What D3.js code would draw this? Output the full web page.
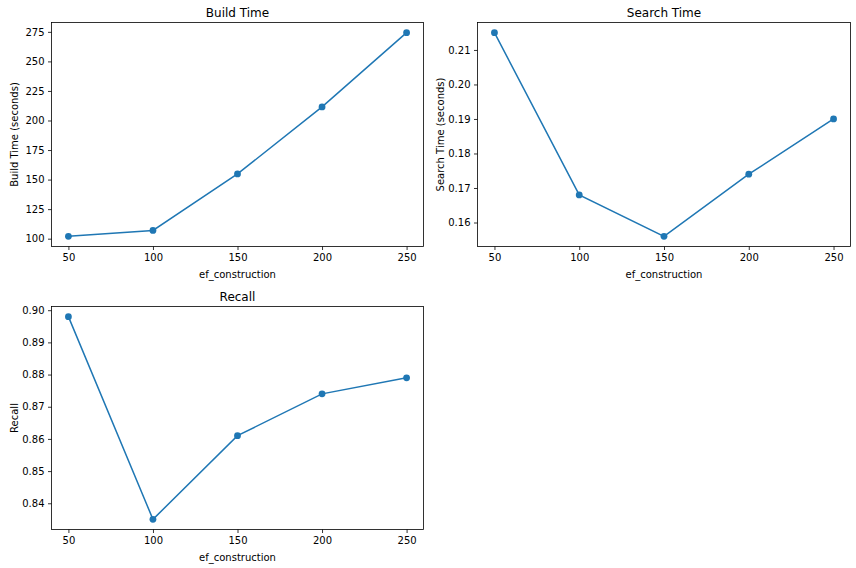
<!DOCTYPE html>
<html><head><meta charset="utf-8">
<script src="https://cdn.jsdelivr.net/npm/d3@7"></script>
<style>body{margin:0;background:#fff}svg{display:block;font-family:"DejaVu Sans",sans-serif}</style>
</head><body>
<svg id="c" width="856" height="568"></svg>
<script>
const efConstruction = [50, 100, 150, 200, 250];
const buildTime = [102, 107, 154.8, 211.5, 274.3];
const searchTime = [0.215, 0.168, 0.156, 0.174, 0.190];
const recall = [0.898, 0.835, 0.861, 0.874, 0.879];
const xTicks = [50, 100, 150, 200, 250];
const buildTicks = [100, 125, 150, 175, 200, 225, 250, 275];
const searchTicks = [0.16, 0.17, 0.18, 0.19, 0.20, 0.21];
const recallTicks = [0.84, 0.85, 0.86, 0.87, 0.88, 0.89, 0.90];

const panels = [
  {title: "Build Time", ylabel: "Build Time (seconds)", values: buildTime, ticks: buildTicks, fmt: d3.format("d"), box: [51.5, 22.5, 423.5, 246.5], ylx: 14},
  {title: "Search Time", ylabel: "Search Time (seconds)", values: searchTime, ticks: searchTicks, fmt: d3.format(".2f"), box: [477.5, 22.5, 850.5, 246.5], ylx: 440},
  {title: "Recall", ylabel: "Recall", values: recall, ticks: recallTicks, fmt: d3.format(".2f"), box: [51.5, 306.5, 423.5, 529.5], ylx: 14}
];
const color = "#1f77b4";
const svg = d3.select("#c");

panels.forEach(p => {
  const [x0, y0, x1, y1] = p.box;
  const xe = d3.extent(efConstruction), xp = (xe[1]-xe[0])*0.05;
  const ye = d3.extent(p.values), yp = (ye[1]-ye[0])*0.05;
  const x = d3.scaleLinear().domain([xe[0]-xp, xe[1]+xp]).range([x0, x1]);
  const y = d3.scaleLinear().domain([ye[0]-yp, ye[1]+yp]).range([y1, y0]);
  const g = svg.append("g");

  const xa = g.append("g").attr("transform", `translate(0,${y1})`)
    .call(d3.axisBottom(x).tickValues(xTicks).tickSize(3.5).tickPadding(3.5).tickFormat(d3.format("d")));
  const ya = g.append("g").attr("transform", `translate(${x0},0)`)
    .call(d3.axisLeft(y).tickValues(p.ticks).tickSize(3.5).tickPadding(3.5).tickFormat(p.fmt));
  [xa, ya].forEach(a => {
    a.select(".domain").remove();
    a.selectAll("line").attr("stroke", "#000").attr("stroke-width", 0.8);
    a.selectAll("text").attr("font-size", 10).attr("fill", "#000").attr("font-family", "DejaVu Sans");
  });

  g.append("rect").attr("x", x0).attr("y", y0).attr("width", x1-x0).attr("height", y1-y0)
    .attr("fill", "none").attr("stroke", "#000").attr("stroke-width", 0.8);

  const line = d3.line().x((d,i) => x(efConstruction[i])).y(d => y(d));
  g.append("path").datum(p.values).attr("d", line).attr("fill", "none")
    .attr("stroke", color).attr("stroke-width", 1.5);
  g.selectAll("circle.pt").data(p.values).enter().append("circle")
    .attr("cx", (d,i) => x(efConstruction[i])).attr("cy", d => y(d)).attr("r", 3.4).attr("fill", color);

  g.append("text").attr("x", (x0+x1)/2).attr("y", y0-6).attr("text-anchor", "middle")
    .attr("font-size", 12).text(p.title);
  g.append("text").attr("x", (x0+x1)/2).attr("y", y1+31).attr("text-anchor", "middle")
    .attr("font-size", 10).text("ef_construction");
  g.append("text").attr("transform", `translate(${p.ylx},${(y0+y1)/2}) rotate(-90)`)
    .attr("text-anchor", "middle").attr("dominant-baseline", "central")
    .attr("font-size", 10).text(p.ylabel);
});
</script>
</body></html>
